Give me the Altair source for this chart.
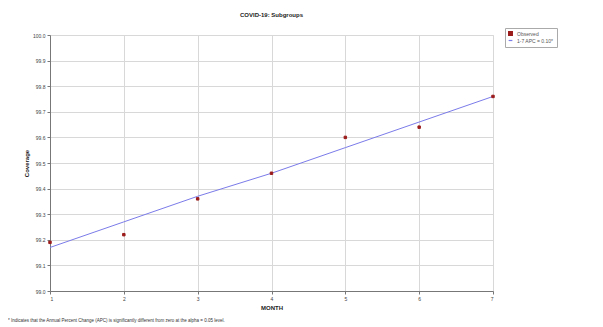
import altair as alt
import pandas as pd

months = [1, 2, 3, 4, 5, 6, 7]
observed = [99.19, 99.22, 99.36, 99.46, 99.60, 99.64, 99.76]
modeled = [99.17, 99.27, 99.37, 99.46, 99.56, 99.66, 99.76]
y_ticks = [99.0, 99.1, 99.2, 99.3, 99.4, 99.5, 99.6, 99.7, 99.8, 99.9, 100.0]
obs_label = "Observed"
fit_label = "1-7 APC = 0.10*"
title_text = "COVID-19: Subgroups"
x_title = "MONTH"
y_title = "Coverage"
footnote = "* Indicates that the Annual Percent Change (APC) is significantly different from zero at the alpha = 0.05 level."

df = pd.DataFrame({
    "month": months * 2,
    "value": observed + modeled,
    "series": [obs_label] * len(months) + [fit_label] * len(months),
})

W, H = 443, 256
FONT = "Liberation Sans"

color_scale = alt.Scale(domain=[obs_label, fit_label], range=["#9b1b1b", "#7b7bea"])
shape_scale = alt.Scale(domain=[obs_label, fit_label], range=["square", "stroke"])

x_enc = alt.X("month:Q", scale=alt.Scale(domain=[1, 7], nice=False),
              axis=alt.Axis(values=months, format="d", title=x_title, labelFontSize=5,
                            titleFontSize=6, titleFontWeight="bold", titlePadding=3,
                            tickSize=3, labelPadding=2, gridColor="#d8d8d8",
                            domainColor="#777", tickColor="#777", labelColor="#444",
                            titleColor="#222", labelFont=FONT, titleFont=FONT))
y_enc = alt.Y("value:Q", scale=alt.Scale(domain=[99.0, 100.0], nice=False, zero=False),
              axis=alt.Axis(values=y_ticks, format=".1f", title=y_title, labelFontSize=5,
                            titleFontSize=6, titleFontWeight="bold", titlePadding=3,
                            tickSize=3, labelPadding=2, gridColor="#d8d8d8",
                            domainColor="#777", tickColor="#777", labelColor="#444",
                            titleColor="#222", labelFont=FONT, titleFont=FONT))

legend = alt.Legend(title=None, orient="none", legendX=455, legendY=-7,
                    labelFontSize=5, labelFont=FONT, labelColor="#555",
                    symbolSize=14, symbolStrokeWidth=1.2, rowPadding=0,
                    padding=3, strokeColor="#aaa", fillColor="white",
                    labelLimit=200)

base = alt.Chart(df)

line = base.transform_filter(alt.datum.series == fit_label).mark_line(strokeWidth=1).encode(
    x=x_enc, y=y_enc,
    color=alt.Color("series:N", scale=color_scale, legend=legend),
)

points = base.transform_filter(alt.datum.series == obs_label).mark_point(
    filled=False, size=6, opacity=1, strokeWidth=1
).encode(
    x=x_enc, y=y_enc,
    color=alt.Color("series:N", scale=color_scale, legend=legend),
    fill=alt.Fill("series:N", scale=color_scale, legend=legend),
    shape=alt.Shape("series:N", scale=shape_scale, legend=legend),
)

note = alt.Chart(pd.DataFrame({"t": [footnote]})).mark_text(
    align="left", baseline="middle", fontSize=4.5, font=FONT, color="#333"
).encode(x=alt.value(-42), y=alt.value(H + 30), text="t:N")

chart = alt.layer(line, points, note).properties(
    width=W, height=H,
    title=alt.TitleParams(title_text, fontSize=6, font=FONT, fontWeight="bold",
                          anchor="middle", offset=10, color="#222"),
    autosize=alt.AutoSizeParams(type="none"),
    padding={"left": 42, "top": 27, "right": 102, "bottom": 36},
).configure_view(stroke="#888", strokeWidth=1).configure(background="white")

chart.save("out.html", embed_options={"renderer": "svg", "actions": False})
